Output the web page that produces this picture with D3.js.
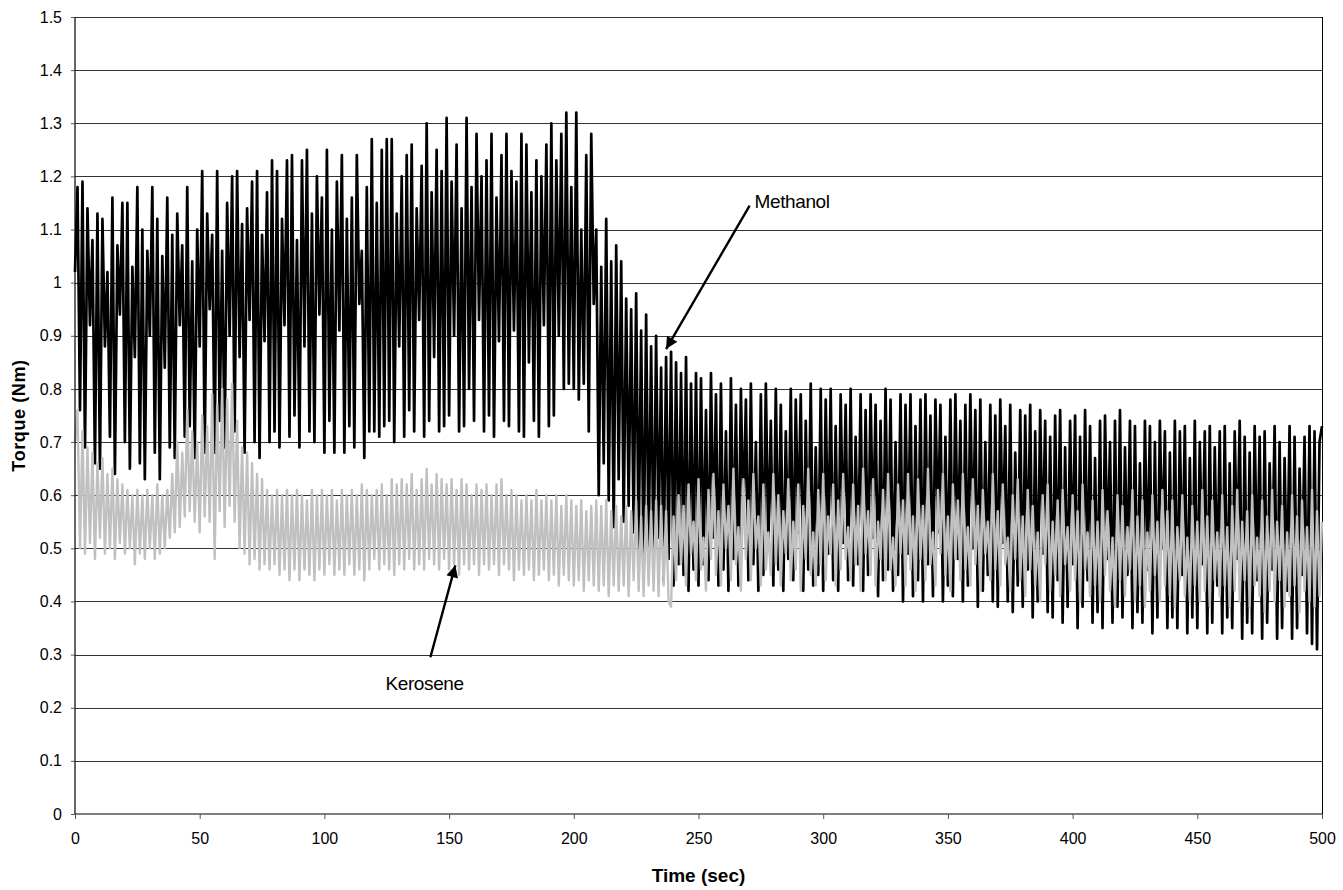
<!DOCTYPE html>
<html>
<head>
<meta charset="utf-8">
<script src="https://cdn.jsdelivr.net/npm/d3@7"></script>
<style>
  body { margin: 0; background: #fff; }
  svg { display: block; }
  text { font-family: "Liberation Sans", Arial, sans-serif; fill: #000; }
</style>
</head>
<body>
<svg class="svg"></svg>
<script>
// axis ticks
const yTicks = [0, 0.1, 0.2, 0.3, 0.4, 0.5, 0.6, 0.7, 0.8, 0.9, 1, 1.1, 1.2, 1.3, 1.4, 1.5]
const xTicks = [0, 50, 100, 150, 200, 250, 300, 350, 400, 450, 500]

// logged torque, one sample per second from t = 0 to 500 s
const sampleStep = 1

const methanol = [
  1.02, 1.18, 0.76, 1.19, 0.69, 1.14, 0.92, 1.08, 0.66, 1.13,
  0.65, 1.12, 0.88, 1.02, 0.71, 1.16, 0.64, 1.07, 0.94, 1.15,
  0.70, 1.15, 0.65, 1.03, 0.86, 1.18, 0.66, 1.10, 0.63, 1.06,
  0.90, 1.18, 0.68, 1.12, 0.63, 1.05, 0.84, 1.16, 0.69, 1.09,
  0.67, 1.13, 0.92, 1.07, 0.71, 1.18, 0.73, 1.04, 0.67, 1.10,
  0.88, 1.21, 0.68, 1.13, 0.95, 1.09, 0.68, 1.21, 0.74, 1.06,
  0.69, 1.15, 0.90, 1.20, 0.72, 1.21, 0.86, 1.11, 0.68, 1.14,
  0.93, 1.19, 0.70, 1.21, 0.67, 1.09, 0.89, 1.17, 0.70, 1.23,
  0.72, 1.21, 0.69, 1.12, 0.92, 1.23, 0.71, 1.24, 0.75, 1.08,
  0.69, 1.23, 0.88, 1.25, 0.72, 1.13, 0.70, 1.20, 0.94, 1.16,
  0.68, 1.25, 0.74, 1.10, 0.68, 1.19, 0.91, 1.24, 0.68, 1.12,
  0.73, 1.16, 0.69, 1.24, 0.96, 1.06, 0.67, 1.18, 0.72, 1.27,
  0.72, 1.15, 0.71, 1.25, 0.73, 1.27, 0.74, 1.27, 0.70, 1.13,
  0.88, 1.20, 0.71, 1.24, 0.76, 1.26, 0.72, 1.14, 0.93, 1.22,
  0.71, 1.30, 0.74, 1.17, 0.86, 1.25, 0.72, 1.21, 0.73, 1.31,
  0.75, 1.19, 0.90, 1.26, 0.72, 1.14, 0.73, 1.31, 0.80, 1.18,
  0.74, 1.28, 0.93, 1.20, 0.72, 1.23, 0.75, 1.28, 0.71, 1.16,
  0.89, 1.24, 0.74, 1.28, 0.73, 1.21, 0.91, 1.19, 0.72, 1.28,
  0.71, 1.26, 0.85, 1.17, 0.74, 1.23, 0.71, 1.20, 0.92, 1.26,
  0.73, 1.30, 0.75, 1.23, 0.90, 1.28, 0.80, 1.32, 0.81, 1.18,
  0.80, 1.32, 0.78, 1.10, 0.81, 1.24, 0.72, 1.28, 0.96, 1.10,
  0.60, 1.03, 0.66, 1.12, 0.59, 1.04, 0.54, 1.07, 0.63, 1.04,
  0.55, 0.97, 0.58, 0.95, 0.53, 0.98, 0.50, 0.91, 0.45, 0.94,
  0.49, 0.88, 0.46, 0.90, 0.52, 0.84, 0.44, 0.86, 0.48, 0.87,
  0.43, 0.85, 0.47, 0.83, 0.45, 0.86, 0.42, 0.81, 0.46, 0.83,
  0.43, 0.82, 0.47, 0.76, 0.44, 0.83, 0.52, 0.79, 0.43, 0.81,
  0.46, 0.72, 0.42, 0.82, 0.48, 0.77, 0.43, 0.80, 0.55, 0.78,
  0.44, 0.81, 0.47, 0.70, 0.42, 0.79, 0.45, 0.81, 0.50, 0.74,
  0.43, 0.80, 0.46, 0.77, 0.42, 0.72, 0.48, 0.80, 0.44, 0.78,
  0.53, 0.79, 0.42, 0.74, 0.46, 0.81, 0.43, 0.69, 0.45, 0.80,
  0.42, 0.78, 0.49, 0.80, 0.44, 0.73, 0.42, 0.79, 0.51, 0.77,
  0.44, 0.80, 0.43, 0.71, 0.47, 0.79, 0.42, 0.76, 0.45, 0.79,
  0.52, 0.77, 0.41, 0.74, 0.44, 0.80, 0.46, 0.78, 0.42, 0.70,
  0.45, 0.79, 0.40, 0.77, 0.49, 0.79, 0.41, 0.73, 0.44, 0.78,
  0.40, 0.79, 0.47, 0.75, 0.41, 0.78, 0.53, 0.77, 0.40, 0.71,
  0.43, 0.78, 0.41, 0.79, 0.48, 0.74, 0.40, 0.77, 0.43, 0.79,
  0.50, 0.76, 0.39, 0.78, 0.42, 0.70, 0.45, 0.77, 0.40, 0.75,
  0.39, 0.78, 0.51, 0.73, 0.40, 0.77, 0.38, 0.68, 0.43, 0.76,
  0.39, 0.75, 0.46, 0.77, 0.37, 0.72, 0.40, 0.76, 0.49, 0.74,
  0.38, 0.71, 0.37, 0.75, 0.44, 0.76, 0.36, 0.69, 0.39, 0.74,
  0.47, 0.75, 0.35, 0.71, 0.39, 0.76, 0.44, 0.73, 0.36, 0.67,
  0.38, 0.74, 0.35, 0.75, 0.48, 0.70, 0.36, 0.74, 0.39, 0.76,
  0.37, 0.69, 0.45, 0.74, 0.35, 0.73, 0.38, 0.66, 0.36, 0.74,
  0.46, 0.73, 0.34, 0.70, 0.37, 0.74, 0.50, 0.72, 0.35, 0.68,
  0.37, 0.74, 0.35, 0.72, 0.45, 0.73, 0.34, 0.67, 0.37, 0.74,
  0.35, 0.70, 0.47, 0.72, 0.34, 0.73, 0.36, 0.69, 0.43, 0.72,
  0.34, 0.73, 0.37, 0.66, 0.35, 0.72, 0.48, 0.74, 0.33, 0.71,
  0.36, 0.68, 0.34, 0.73, 0.44, 0.71, 0.33, 0.72, 0.36, 0.66,
  0.46, 0.73, 0.33, 0.70, 0.35, 0.67, 0.42, 0.73, 0.33, 0.71,
  0.35, 0.65, 0.45, 0.71, 0.34, 0.73, 0.32, 0.72, 0.31, 0.70,
  0.73
]

const kerosene = [
  0.70, 0.76, 0.50, 0.72, 0.49, 0.69, 0.51, 0.68, 0.48, 0.66,
  0.52, 0.67, 0.49, 0.64, 0.50, 0.65, 0.48, 0.63, 0.51, 0.62,
  0.49, 0.61, 0.50, 0.60, 0.47, 0.61, 0.49, 0.60, 0.48, 0.61,
  0.50, 0.60, 0.48, 0.62, 0.49, 0.60, 0.50, 0.61, 0.52, 0.64,
  0.53, 0.70, 0.54, 0.68, 0.56, 0.76, 0.57, 0.72, 0.55, 0.70,
  0.53, 0.75, 0.56, 0.73, 0.55, 0.79, 0.48, 0.77, 0.57, 0.80,
  0.54, 0.78, 0.58, 0.81, 0.55, 0.74, 0.50, 0.69, 0.49, 0.68,
  0.47, 0.66, 0.48, 0.64, 0.46, 0.63, 0.47, 0.61, 0.46, 0.60,
  0.47, 0.61, 0.45, 0.60, 0.46, 0.61, 0.44, 0.60, 0.46, 0.61,
  0.44, 0.60, 0.46, 0.59, 0.45, 0.61, 0.44, 0.60, 0.46, 0.61,
  0.45, 0.60, 0.47, 0.61, 0.45, 0.59, 0.46, 0.61, 0.45, 0.60,
  0.47, 0.61, 0.45, 0.60, 0.46, 0.62, 0.44, 0.61, 0.46, 0.60,
  0.48, 0.61, 0.46, 0.62, 0.47, 0.60, 0.46, 0.63, 0.45, 0.62,
  0.47, 0.63, 0.46, 0.62, 0.48, 0.64, 0.46, 0.61, 0.47, 0.63,
  0.46, 0.65, 0.48, 0.62, 0.47, 0.64, 0.46, 0.63, 0.48, 0.62,
  0.46, 0.63, 0.47, 0.61, 0.45, 0.63, 0.47, 0.62, 0.46, 0.60,
  0.47, 0.62, 0.45, 0.61, 0.47, 0.62, 0.46, 0.60, 0.47, 0.62,
  0.45, 0.63, 0.47, 0.60, 0.46, 0.61, 0.44, 0.60, 0.46, 0.59,
  0.45, 0.60, 0.46, 0.59, 0.44, 0.61, 0.45, 0.59, 0.46, 0.60,
  0.44, 0.59, 0.45, 0.60, 0.43, 0.58, 0.45, 0.60, 0.44, 0.59,
  0.43, 0.58, 0.44, 0.59, 0.42, 0.57, 0.44, 0.58, 0.43, 0.59,
  0.42, 0.58, 0.43, 0.59, 0.41, 0.57, 0.43, 0.58, 0.42, 0.56,
  0.43, 0.58, 0.41, 0.57, 0.44, 0.59, 0.42, 0.56, 0.41, 0.58,
  0.43, 0.57, 0.42, 0.59, 0.41, 0.58, 0.43, 0.57, 0.40, 0.39,
  0.56, 0.44, 0.60, 0.47, 0.58, 0.43, 0.62, 0.49, 0.55, 0.44,
  0.63, 0.46, 0.52, 0.42, 0.61, 0.48, 0.64, 0.45, 0.57, 0.43,
  0.62, 0.50, 0.58, 0.44, 0.65, 0.47, 0.54, 0.42, 0.63, 0.48,
  0.59, 0.44, 0.64, 0.50, 0.56, 0.43, 0.62, 0.46, 0.53, 0.45,
  0.64, 0.47, 0.60, 0.43, 0.57, 0.49, 0.63, 0.44, 0.55, 0.46,
  0.62, 0.42, 0.58, 0.48, 0.65, 0.45, 0.53, 0.43, 0.61, 0.47,
  0.64, 0.44, 0.56, 0.49, 0.62, 0.43, 0.59, 0.46, 0.64, 0.48,
  0.54, 0.44, 0.62, 0.47, 0.58, 0.42, 0.65, 0.49, 0.57, 0.45,
  0.63, 0.43, 0.55, 0.48, 0.61, 0.44, 0.64, 0.46, 0.52, 0.43,
  0.62, 0.49, 0.59, 0.43, 0.64, 0.46, 0.56, 0.42, 0.63, 0.48,
  0.58, 0.44, 0.65, 0.47, 0.53, 0.43, 0.61, 0.49, 0.64, 0.45,
  0.56, 0.42, 0.62, 0.48, 0.59, 0.44, 0.64, 0.46, 0.54, 0.43,
  0.63, 0.47, 0.58, 0.42, 0.61, 0.49, 0.55, 0.44, 0.64, 0.46,
  0.57, 0.43, 0.62, 0.47, 0.52, 0.42, 0.60, 0.48, 0.63, 0.44,
  0.56, 0.41, 0.61, 0.46, 0.58, 0.43, 0.53, 0.40, 0.60, 0.47,
  0.62, 0.42, 0.55, 0.45, 0.59, 0.41, 0.61, 0.47, 0.54, 0.42,
  0.60, 0.44, 0.57, 0.40, 0.62, 0.46, 0.53, 0.41, 0.59, 0.43,
  0.55, 0.40, 0.61, 0.45, 0.57, 0.42, 0.52, 0.39, 0.60, 0.44,
  0.58, 0.41, 0.54, 0.46, 0.61, 0.40, 0.56, 0.43, 0.59, 0.39,
  0.53, 0.42, 0.60, 0.45, 0.55, 0.40, 0.61, 0.43, 0.57, 0.41,
  0.59, 0.39, 0.54, 0.44, 0.60, 0.41, 0.52, 0.40, 0.58, 0.43,
  0.55, 0.40, 0.61, 0.42, 0.56, 0.39, 0.59, 0.44, 0.53, 0.41,
  0.60, 0.43, 0.54, 0.39, 0.58, 0.42, 0.61, 0.40, 0.55, 0.44,
  0.57, 0.39, 0.60, 0.43, 0.52, 0.41, 0.59, 0.38, 0.56, 0.42,
  0.61, 0.40, 0.55, 0.44, 0.58, 0.39, 0.53, 0.41, 0.60, 0.43,
  0.56, 0.38, 0.59, 0.42, 0.54, 0.40, 0.61, 0.39, 0.57, 0.41,
  0.55
]

// annotation labels, placed at a point on the plot in data units
const notes = [
  { label: "Methanol", text: [272.5, 1.14], tail: [270.5, 1.145], head: [237, 0.875] },
  { label: "Kerosene", text: [124.5, 0.233], tail: [142.5, 0.295], head: [152.5, 0.468] }
]

const width = 1343
const height = 890
const margin = { top: 17, right: 21, bottom: 76, left: 75 }

const svg = d3.select(".svg")
  .attr("width", width)
  .attr("height", height)

const g = svg.append("g")
  .attr("transform", `translate(${margin.left},${margin.top})`)

const w = width - margin.left - margin.right
const h = height - margin.top - margin.bottom

const x = d3.scaleLinear().domain([0, 500]).range([0, w])
const y = d3.scaleLinear().domain([0, 1.5]).range([h, 0])

// grid
g.append("g")
  .selectAll("line")
  .data(yTicks.filter(d => d > 0))
  .join("line")
  .attr("x1", 0)
  .attr("x2", w)
  .attr("y1", d => Math.round(y(d)) + 0.5)
  .attr("y2", d => Math.round(y(d)) + 0.5)
  .attr("stroke", "#333")
  .attr("stroke-width", 1)

// right border
g.append("line")
  .attr("x1", w + 0.5).attr("x2", w + 0.5)
  .attr("y1", 0).attr("y2", h)
  .attr("stroke", "#000")

const toPoints = arr => arr.map((v, i) => [i * sampleStep, v])

const line = d3.line()
  .x(d => x(d[0]))
  .y(d => y(d[1]))

g.append("path")
  .datum(toPoints(methanol))
  .attr("fill", "none")
  .attr("stroke", "#000")
  .attr("stroke-width", 2.7)
  .attr("stroke-linejoin", "round")
  .attr("d", line)

g.append("path")
  .datum(toPoints(kerosene))
  .attr("fill", "none")
  .attr("stroke", "#c0c0c0")
  .attr("stroke-width", 2.4)
  .attr("stroke-linejoin", "round")
  .attr("d", line)

// axes
const yAxis = g.append("g")
  .call(d3.axisLeft(y).tickValues(yTicks).tickSize(4).tickPadding(9)
    .tickFormat(d => String(+d.toFixed(1))))

const xAxis = g.append("g")
  .attr("transform", `translate(0,${h})`)
  .call(d3.axisBottom(x).tickValues(xTicks).tickSize(5).tickPadding(14))

for (const ax of [yAxis, xAxis]) {
  ax.select(".domain").attr("stroke", "#000").attr("stroke-width", 1.2)
  ax.selectAll(".tick line").attr("stroke", "#555")
  ax.selectAll("text")
    .style("font-family", "'Liberation Sans', Arial, sans-serif")
    .style("font-size", "16px")
    .attr("fill", "#000")
}
yAxis.select(".domain").attr("d", `M0,${h}V0`)
xAxis.select(".domain").attr("d", `M0,0H${w}`)

// axis titles
svg.append("text")
  .attr("x", margin.left + w / 2)
  .attr("y", 882)
  .attr("text-anchor", "middle")
  .style("font-size", "19px")
  .style("font-weight", "bold")
  .text("Time (sec)")

svg.append("text")
  .attr("transform", `translate(25,${margin.top + h / 2}) rotate(-90)`)
  .attr("text-anchor", "middle")
  .style("font-size", "18px")
  .style("font-weight", "bold")
  .style("letter-spacing", "0.6px")
  .text("Torque (Nm)")

// arrows
svg.append("defs").append("marker")
  .attr("id", "head")
  .attr("viewBox", "0 0 10 10")
  .attr("refX", 10)
  .attr("refY", 5)
  .attr("markerWidth", 6)
  .attr("markerHeight", 5)
  .attr("markerUnits", "strokeWidth")
  .attr("orient", "auto")
  .append("path")
  .attr("d", "M0,0L10,5L0,10Z")
  .attr("fill", "#000")

const ann = g.append("g")
ann.selectAll("line")
  .data(notes)
  .join("line")
  .attr("x1", d => x(d.tail[0]))
  .attr("y1", d => y(d.tail[1]))
  .attr("x2", d => x(d.head[0]))
  .attr("y2", d => y(d.head[1]))
  .attr("stroke", "#000")
  .attr("stroke-width", 2.4)
  .attr("marker-end", "url(#head)")

ann.selectAll("text")
  .data(notes)
  .join("text")
  .attr("x", d => x(d.text[0]))
  .attr("y", d => y(d.text[1]))
  .style("font-size", "19px")
  .style("letter-spacing", "-0.4px")
  .text(d => d.label)
</script>
</body>
</html>
